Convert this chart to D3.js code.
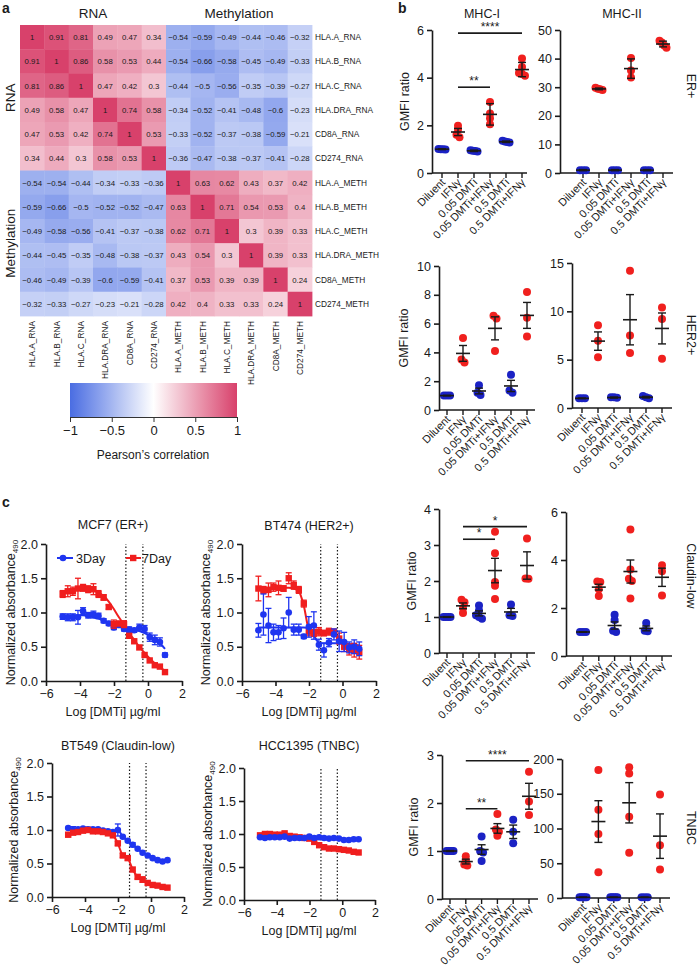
<!DOCTYPE html>
<html><head><meta charset="utf-8">
<script src="https://cdn.jsdelivr.net/npm/d3@7/dist/d3.min.js"></script>
<style>
body{margin:0;background:#fff;}
svg text{font-family:"Liberation Sans",Arial,Helvetica,sans-serif;fill:#1a1a1a;}
</style></head><body>
<svg id="fig" width="697" height="972" xmlns="http://www.w3.org/2000/svg"></svg>
<script>
// ================= DATA =================
// Panel a – correlation heatmap
const heatLabels = ["HLA.A_RNA","HLA.B_RNA","HLA.C_RNA","HLA.DRA_RNA","CD8A_RNA","CD274_RNA",
                    "HLA.A_METH","HLA.B_METH","HLA.C_METH","HLA.DRA_METH","CD8A_METH","CD274_METH"];
const heatValues = [
  [1,0.91,0.81,0.49,0.47,0.34,-0.54,-0.59,-0.49,-0.44,-0.46,-0.32],
  [0.91,1,0.86,0.58,0.53,0.44,-0.54,-0.66,-0.58,-0.45,-0.49,-0.33],
  [0.81,0.86,1,0.47,0.42,0.3,-0.44,-0.5,-0.56,-0.35,-0.39,-0.27],
  [0.49,0.58,0.47,1,0.74,0.58,-0.34,-0.52,-0.41,-0.48,-0.6,-0.23],
  [0.47,0.53,0.42,0.74,1,0.53,-0.33,-0.52,-0.37,-0.38,-0.59,-0.21],
  [0.34,0.44,0.3,0.58,0.53,1,-0.36,-0.47,-0.38,-0.37,-0.41,-0.28],
  [-0.54,-0.54,-0.44,-0.34,-0.33,-0.36,1,0.63,0.62,0.43,0.37,0.42],
  [-0.59,-0.66,-0.5,-0.52,-0.52,-0.47,0.63,1,0.71,0.54,0.53,0.4],
  [-0.49,-0.58,-0.56,-0.41,-0.37,-0.38,0.62,0.71,1,0.3,0.39,0.33],
  [-0.44,-0.45,-0.35,-0.48,-0.38,-0.37,0.43,0.54,0.3,1,0.39,0.33],
  [-0.46,-0.49,-0.39,-0.6,-0.59,-0.41,0.37,0.53,0.39,0.39,1,0.24],
  [-0.32,-0.33,-0.27,-0.23,-0.21,-0.28,0.42,0.4,0.33,0.33,0.24,1]
];
const colorbarTicks = [-1,-0.5,0,0.5,1];

// Panel b – GMFI ratios
const gmfiGroups = ["Diluent","IFN\u03b3","0.05 DMTi","0.05 DMTi+IFN\u03b3","0.5 DMTi","0.5 DMTi+IFN\u03b3"];
const erMhc1Points = [[0.99,1.0,1.0,1.01],[1.98,1.82,1.6,1.5],[0.9,0.92,0.95,0.93],[2.98,2.5,2.3,2.05],[1.28,1.32,1.35,1.3],[4.8,4.45,4.2,4.08,4.15]];
const erMhc1Mean = [1.0,1.72,0.93,2.46,1.31,4.34];
const erMhc1Err = [0.02,0.15,0.03,0.45,0.03,0.3];
const erMhc2Points = [[1,1,1],[29.0,29.5,29.8,29.3],[1,1,1],[40.2,35.8,33.4],[1,1,1],[46.2,45.6,44.6,43.8]];
const erMhc2Mean = [1,29.4,1,36.5,1,45.1];
const erMhc2Err = [0.2,0.3,0.2,3.4,0.2,1.0];
const her2Mhc1Points = [[1,1,1],[5.0,3.5,3.3],[1.72,1.2,1.05],[6.55,6.35,4.1],[2.45,1.35,1.2],[8.2,6.4,5.1]];
const her2Mhc1Mean = [1,3.93,1.32,5.67,1.67,6.57];
const her2Mhc1Err = [0.02,0.55,0.2,0.8,0.39,0.9];
const her2Mhc2Points = [[1,1,1],[8.55,6.95,5.25],[1.1,1.1,1.05],[14.2,7.5,5.7],[1.25,1.0,1.1],[10.4,9.2,5.1]];
const her2Mhc2Mean = [1,6.92,1.08,9.13,1.12,8.23];
const her2Mhc2Err = [0.03,0.95,0.05,2.6,0.08,1.6];
const clMhc1Points = [[1,1,1,1],[1.48,1.41,1.25,1.11],[1.32,1.18,1.05,0.95,1.0],[3.37,2.77,1.97,1.87,1.5],[1.35,1.05,1.03],[3.18,2.07,2.06]];
const clMhc1Mean = [1,1.31,1.1,2.29,1.14,2.43];
const clMhc1Err = [0.01,0.08,0.07,0.34,0.1,0.38];
const clMhc2Points = [[1,1,1],[3.1,3.08,2.78,2.5],[1.72,1.5,1.05,1.0],[5.27,3.6,3.22,3.12,2.4],[1.37,1.05,1.03],[3.78,3.53,2.52]];
const clMhc2Mean = [1,2.87,1.27,3.52,1.15,3.28];
const clMhc2Err = [0.01,0.12,0.15,0.48,0.1,0.38];
const tnMhc1Points = [[1,1,1,1,1],[0.89,0.8,0.72,0.7],[1.3,1.0,0.97,0.79],[1.77,1.45,1.4,1.32],[1.65,1.4,1.16],[2.65,2.03,1.75]];
const tnMhc1Mean = [1,0.78,1.03,1.47,1.4,2.14];
const tnMhc1Err = [0.01,0.05,0.1,0.1,0.14,0.27];
const tnMhc2Points = [[1,1,1,1,1],[184,127,92,37],[1,1,1,1,1],[188,179,117,65],[1,1,1],[149,76,41]];
const tnMhc2Mean = [1,110,1,137,1,89];
const tnMhc2Err = [0.2,30,0.2,29,0.2,32];
const erMhc1Sig = [{from:1,to:5,y:5.87,label:"****"},{from:1,to:3,y:3.6,label:"**"}];
const clMhc1Sig = [{from:1,to:3,y:3.16,label:"*"},{from:1,to:5,y:3.51,label:"*"}];
const tnMhc1Sig = [{from:1,to:5,y:2.88,label:"****"},{from:1,to:3,y:1.88,label:"**"}];

// Panel c – dose response
const doseLogX = [-5.02,-4.72,-4.42,-4.12,-3.82,-3.52,-3.21,-2.91,-2.61,-2.31,-2.01,-1.71,-1.41,-1.11,-0.81,-0.51,-0.20,0.10,0.40,0.70,1.00];
const dmtiDoses = [0.05, 0.5];
const mcf7Day3 = [0.94,0.93,0.93,0.93,1.02,0.96,0.97,0.95,0.88,0.84,0.78,0.82,0.76,0.75,0.74,0.78,0.76,0.64,0.60,0.57,0.38];
const mcf7Day3Err = [0.04,0.05,0.05,0.1,0.05,0.04,0.05,0.04,0.03,0.03,0.03,0.04,0.03,0.04,0.03,0.05,0.05,0.06,0.07,0.06,0.03];
const mcf7Day3Fit = [0.95,0.95,0.96,0.96,0.96,0.95,0.93,0.91,0.88,0.85,0.82,0.80,0.78,0.77,0.75,0.73,0.70,0.66,0.61,0.55,0.47];
const mcf7Day7 = [1.27,1.31,1.31,1.35,1.36,1.34,1.34,1.27,1.22,1.08,0.83,0.84,0.83,0.66,0.58,0.49,0.38,0.30,0.23,0.21,0.13];
const mcf7Day7Err = [0.05,0.08,0.06,0.15,0.05,0.05,0.08,0.05,0.04,0.03,0.06,0.03,0.05,0.03,0.02,0.02,0.02,0.02,0.02,0.02,0.02];
const mcf7Day7Fit = [1.30,1.32,1.34,1.35,1.35,1.34,1.32,1.29,1.24,1.16,1.05,0.93,0.82,0.70,0.60,0.50,0.41,0.33,0.26,0.20,0.15];
const bt474Day3 = [0.74,0.97,0.81,0.71,0.71,0.77,1.00,0.75,0.75,0.65,0.79,0.81,0.53,0.45,0.56,0.68,0.58,0.57,0.49,0.50,0.47];
const bt474Day3Err = [0.1,0.3,0.25,0.12,0.1,0.15,0.22,0.08,0.08,0.03,0.15,0.2,0.08,0.1,0.06,0.08,0.15,0.14,0.08,0.1,0.1];
const bt474Day3Fit = [0.78,0.78,0.78,0.78,0.78,0.78,0.78,0.78,0.78,0.78,0.77,0.66,0.56,0.55,0.55,0.55,0.55,0.55,0.54,0.53,0.52];
const bt474Day7 = [1.35,1.33,1.33,1.37,1.36,1.35,1.50,1.40,1.33,1.13,0.72,0.70,0.72,0.70,0.72,0.71,0.62,0.50,0.46,0.45,0.42];
const bt474Day7Err = [0.18,0.05,0.1,0.06,0.1,0.04,0.08,0.06,0.05,0.05,0.06,0.05,0.06,0.04,0.05,0.05,0.08,0.07,0.08,0.1,0.1];
const bt474Day7Fit = [1.36,1.36,1.36,1.36,1.36,1.36,1.36,1.35,1.31,1.10,0.76,0.71,0.71,0.71,0.71,0.70,0.62,0.52,0.48,0.47,0.47];
const bt549Day3 = [1.03,1.00,1.01,1.02,1.01,1.01,1.01,0.99,0.98,0.97,1.00,0.90,0.84,0.78,0.72,0.66,0.62,0.58,0.55,0.53,0.55];
const bt549Day3Err = [0.02,0.05,0.02,0.02,0.03,0.02,0.02,0.02,0.02,0.02,0.09,0.02,0.02,0.03,0.02,0.02,0.02,0.02,0.02,0.02,0.02];
const bt549Day7 = [0.93,0.96,0.97,0.99,1.00,0.98,0.98,0.97,0.95,0.92,0.80,0.62,0.58,0.41,0.30,0.26,0.21,0.18,0.17,0.15,0.14];
const bt549Day7Err = [0.03,0.02,0.02,0.02,0.03,0.02,0.02,0.02,0.02,0.02,0.03,0.03,0.03,0.02,0.03,0.04,0.02,0.02,0.02,0.02,0.02];
const hccDay3 = [0.95,0.94,0.95,0.95,0.95,0.96,0.93,0.94,0.94,0.94,0.96,0.94,0.95,0.94,0.93,0.94,0.93,0.91,0.91,0.92,0.92];
const hccDay3Err = [0.02,0.02,0.02,0.02,0.02,0.02,0.02,0.02,0.02,0.02,0.02,0.02,0.02,0.02,0.02,0.02,0.02,0.02,0.02,0.02,0.02];
const hccDay7 = [0.98,1.00,1.00,0.99,0.99,1.01,0.97,0.96,0.95,0.94,0.93,0.88,0.83,0.80,0.78,0.78,0.77,0.76,0.75,0.73,0.72];
const hccDay7Err = [0.02,0.02,0.02,0.02,0.02,0.02,0.02,0.02,0.02,0.02,0.02,0.02,0.02,0.02,0.02,0.02,0.02,0.02,0.02,0.02,0.02];

// ================= DRAWING =================
const svg = d3.select("#fig");
const INK = "#1a1a1a";
const fmtNum = v => (v < 0 ? "\u2212" : "") + String(Math.abs(v));

function panelLetter(t, x, y){
  svg.append("text").attr("x",x).attr("y",y).attr("font-size",14).attr("font-weight","bold").text(t);
}

// ---------- Panel a ----------
(function(){
  const g = svg.append("g");
  const hx = d3.scaleBand().domain(heatLabels).range([20,312]);
  const hy = d3.scaleBand().domain(heatLabels).range([25,316]);
  const heatColor = d3.scaleLinear().domain([-1,0,1]).range(["#4a6de2","#ffffff","#d8416b"]);
  heatValues.forEach((row,i)=>row.forEach((v,j)=>{
    g.append("rect").attr("x",hx(heatLabels[j])).attr("y",hy(heatLabels[i]))
      .attr("width",hx.bandwidth()+0.4).attr("height",hy.bandwidth()+0.4).attr("fill",heatColor(v));
  }));
  heatValues.forEach((row,i)=>row.forEach((v,j)=>{
    g.append("text").attr("x",hx(heatLabels[j])+hx.bandwidth()/2).attr("y",hy(heatLabels[i])+hy.bandwidth()/2+3)
      .attr("text-anchor","middle").attr("font-size",7.8).text(fmtNum(v));
  }));
  heatLabels.forEach(l=>{
    g.append("text").attr("x",315).attr("y",hy(l)+hy.bandwidth()/2+3).attr("font-size",8.3).text(l);
    g.append("text").attr("transform",`translate(${hx(l)+hx.bandwidth()/2+3},321) rotate(-90)`)
      .attr("text-anchor","end").attr("font-size",8.3).text(l);
  });
  const rnaMid = (hx(heatLabels[0]) + hx(heatLabels[5]) + hx.bandwidth())/2;
  const methMid = (hx(heatLabels[6]) + hx(heatLabels[11]) + hx.bandwidth())/2;
  g.append("text").attr("x",rnaMid).attr("y",18).attr("text-anchor","middle").attr("font-size",13.5).text("RNA");
  g.append("text").attr("x",methMid).attr("y",18).attr("text-anchor","middle").attr("font-size",13.5).text("Methylation");
  const rnaMidY = (hy(heatLabels[0]) + hy(heatLabels[5]) + hy.bandwidth())/2;
  const methMidY = (hy(heatLabels[6]) + hy(heatLabels[11]) + hy.bandwidth())/2;
  g.append("text").attr("transform",`translate(15,${rnaMidY}) rotate(-90)`).attr("text-anchor","middle").attr("font-size",13.5).text("RNA");
  g.append("text").attr("transform",`translate(15,${methMidY}) rotate(-90)`).attr("text-anchor","middle").attr("font-size",13.5).text("Methylation");

  // colour bar
  const defs = svg.append("defs");
  const lg = defs.append("linearGradient").attr("id","cbar").attr("x1","0%").attr("x2","100%");
  d3.range(0,1.0001,0.1).forEach(t=>{
    lg.append("stop").attr("offset",(t*100)+"%").attr("stop-color",heatColor(-1+2*t));
  });
  const cx = d3.scaleLinear().domain([-1,1]).range([70,237]);
  g.append("rect").attr("x",70).attr("y",383).attr("width",167).attr("height",34).attr("fill","url(#cbar)");
  const ax = g.append("g").attr("transform","translate(0,417)")
    .call(d3.axisBottom(cx).tickValues(colorbarTicks).tickSize(5).tickSizeOuter(0).tickPadding(4).tickFormat(fmtNum));
  ax.selectAll("path,line").attr("stroke","#333").attr("stroke-width",1);
  ax.selectAll("text").attr("font-size",13);
  g.append("text").attr("x",153).attr("y",459).attr("text-anchor","middle").attr("font-size",12).text("Pearson\u2019s correlation");
})();
panelLetter("a",2,13);

// ---------- Panel b ----------
const bBlue = "#1b22c4", bRed = "#f0201e";
function gmfiPlot(c){
  const g = svg.append("g");
  const y = d3.scaleLinear().domain([0,c.max]).range([c.y0,c.yTop]);
  const x = d3.scalePoint().domain(gmfiGroups).range([c.cx0,c.cx1]);
  const ya = g.append("g").attr("transform",`translate(${c.ax},0)`)
    .call(d3.axisLeft(y).tickValues(c.ticks).tickFormat(d3.format("~g")).tickSize(5).tickSizeOuter(0).tickPadding(3));
  ya.selectAll("path,line").attr("stroke",INK).attr("stroke-width",1.6);
  ya.selectAll("text").attr("font-size",12.5);
  g.append("line").attr("x1",c.ax).attr("x2",c.xEnd).attr("y1",c.y0).attr("y2",c.y0).attr("stroke",INK).attr("stroke-width",1.6);
  gmfiGroups.forEach(gr=>{
    g.append("line").attr("x1",x(gr)).attr("x2",x(gr)).attr("y1",c.y0).attr("y2",c.y0+5).attr("stroke",INK).attr("stroke-width",1.4);
    g.append("text").attr("transform",`translate(${x(gr)+4},${c.y0+10}) rotate(-45)`)
      .attr("text-anchor","end").attr("font-size",11).text(gr);
  });
  // points
  c.points.forEach((vals,gi)=>{
    const col = gi % 2 === 0 ? bBlue : bRed;
    const py = vals.map(v=>y(v));
    const order = d3.range(vals.length).sort((a,b)=>py[a]-py[b]);
    const offs = new Array(vals.length).fill(0);
    let cluster = [order[0]];
    const flush = ()=>{
      const m = cluster.length;
      if (m>1){ const spread = Math.min((m-1)*3,7); cluster.forEach((k,j)=>offs[k] = j*spread/(m-1)-spread/2); }
    };
    for (let k=1;k<order.length;k++){
      if (py[order[k]] - py[cluster[cluster.length-1]] < 3.5) cluster.push(order[k]);
      else { flush(); cluster=[order[k]]; }
    }
    flush();
    vals.forEach((v,k)=>{
      g.append("circle").attr("cx",x(gmfiGroups[gi])+offs[k]).attr("cy",py[k]).attr("r",4).attr("fill",col);
    });
  });
  // mean & error bars
  c.mean.forEach((m,gi)=>{
    const xx = x(gmfiGroups[gi]);
    const e = c.err[gi];
    g.append("line").attr("x1",xx-7).attr("x2",xx+7).attr("y1",y(m)).attr("y2",y(m)).attr("stroke",INK).attr("stroke-width",1.6);
    g.append("line").attr("x1",xx).attr("x2",xx).attr("y1",y(m-e)).attr("y2",y(m+e)).attr("stroke",INK).attr("stroke-width",1.4);
    [m-e,m+e].forEach(v=>g.append("line").attr("x1",xx-4).attr("x2",xx+4).attr("y1",y(v)).attr("y2",y(v)).attr("stroke",INK).attr("stroke-width",1.4));
  });
  (c.sig||[]).forEach(s=>{
    const x1 = x(gmfiGroups[s.from]), x2 = x(gmfiGroups[s.to]);
    g.append("line").attr("x1",x1).attr("x2",x2).attr("y1",y(s.y)).attr("y2",y(s.y)).attr("stroke",INK).attr("stroke-width",1.6);
    g.append("text").attr("x",(x1+x2)/2).attr("y",y(s.y)-2).attr("text-anchor","middle").attr("font-size",12).text(s.label);
  });
  if (c.ylab){
    g.append("text").attr("transform",`translate(${c.ylab},${(c.y0+c.yTop)/2}) rotate(-90)`)
      .attr("text-anchor","middle").attr("font-size",12.5).text("GMFI ratio");
  }
}
function rowLabel(t, yc){
  svg.append("text").attr("transform",`translate(687,${yc}) rotate(90)`).attr("text-anchor","middle").attr("font-size",12.5).text(t);
}
panelLetter("b",398,13);
svg.append("text").attr("x",482).attr("y",18).attr("text-anchor","middle").attr("font-size",12.5).text("MHC-I");
svg.append("text").attr("x",622).attr("y",18).attr("text-anchor","middle").attr("font-size",12.5).text("MHC-II");

gmfiPlot({ax:432,cx0:442,cx1:522,xEnd:527,y0:173,yTop:30,max:6,ticks:[0,2,4,6],points:erMhc1Points,mean:erMhc1Mean,err:erMhc1Err,sig:erMhc1Sig,ylab:409});
gmfiPlot({ax:560,cx0:583,cx1:663,xEnd:673,y0:173,yTop:30,max:50,ticks:[0,10,20,30,40,50],points:erMhc2Points,mean:erMhc2Mean,err:erMhc2Err});
rowLabel("ER+",86);
gmfiPlot({ax:439,cx0:447,cx1:527,xEnd:535,y0:410,yTop:266,max:10,ticks:[0,2,4,6,8,10],points:her2Mhc1Points,mean:her2Mhc1Mean,err:her2Mhc1Err,ylab:408});
gmfiPlot({ax:572,cx0:582,cx1:662,xEnd:672,y0:408,yTop:263,max:15,ticks:[0,5,10,15],points:her2Mhc2Points,mean:her2Mhc2Mean,err:her2Mhc2Err});
rowLabel("HER2+",335);
gmfiPlot({ax:439,cx0:447,cx1:527,xEnd:535,y0:653,yTop:509,max:4,ticks:[0,1,2,3,4],points:clMhc1Points,mean:clMhc1Mean,err:clMhc1Err,sig:clMhc1Sig,ylab:416});
gmfiPlot({ax:566,cx0:583,cx1:662,xEnd:672,y0:656,yTop:512,max:6,ticks:[0,2,4,6],points:clMhc2Points,mean:clMhc2Mean,err:clMhc2Err});
rowLabel("Claudin-low",576);
gmfiPlot({ax:442,cx0:450,cx1:529,xEnd:538,y0:899,yTop:755,max:3,ticks:[0,1,2,3],points:tnMhc1Points,mean:tnMhc1Mean,err:tnMhc1Err,sig:tnMhc1Sig,ylab:418});
gmfiPlot({ax:562,cx0:583,cx1:660,xEnd:670,y0:898,yTop:759,max:200,ticks:[0,50,100,150,200],points:tnMhc2Points,mean:tnMhc2Mean,err:tnMhc2Err});
rowLabel("TNBC",828);

// ---------- Panel c ----------
const cBlue = "#1f35f0", cRed = "#f01e1e";
function dosePlot(c){
  const g = svg.append("g");
  const x = d3.scaleLinear().domain([-6,2]).range([c.x0,c.x1]);
  const y = d3.scaleLinear().domain([0,2]).range([c.y0,c.yTop]);
  const ya = g.append("g").attr("transform",`translate(${c.x0},0)`)
    .call(d3.axisLeft(y).tickValues([0,0.5,1,1.5,2]).tickFormat(d3.format(".1f")).tickSize(5).tickSizeOuter(0).tickPadding(3));
  const xa = g.append("g").attr("transform",`translate(0,${c.y0})`)
    .call(d3.axisBottom(x).tickValues([-6,-4,-2,0,2]).tickFormat(d3.format("d")).tickSize(5).tickSizeOuter(0).tickPadding(3));
  [ya,xa].forEach(a=>{a.selectAll("path,line").attr("stroke",INK).attr("stroke-width",1.6); a.selectAll("text").attr("font-size",12.5);});
  dmtiDoses.forEach(d=>{
    const xx = x(Math.log10(d));
    g.append("line").attr("x1",xx).attr("x2",xx).attr("y1",c.y0).attr("y2",c.yTop).attr("stroke",INK).attr("stroke-width",1.2).attr("stroke-dasharray","1.5,2");
  });
  const line = d3.line().x((d,i)=>x(doseLogX[i])).y(d=>y(d)).curve(d3.curveMonotoneX);
  c.series.forEach(s=>{
    g.append("path").attr("d",line(s.fit||s.y)).attr("fill","none").attr("stroke",s.color).attr("stroke-width",2);
  });
  c.series.forEach(s=>{
    s.y.forEach((v,i)=>{
      const xx = x(doseLogX[i]), e = s.err[i];
      if (e > 0.025){
        g.append("line").attr("x1",xx).attr("x2",xx).attr("y1",y(v-e)).attr("y2",y(v+e)).attr("stroke",s.color).attr("stroke-width",1.3);
        [v-e,v+e].forEach(w=>g.append("line").attr("x1",xx-3).attr("x2",xx+3).attr("y1",y(w)).attr("y2",y(w)).attr("stroke",s.color).attr("stroke-width",1.3));
      }
      if (s.shape==="circle") g.append("circle").attr("cx",xx).attr("cy",y(v)).attr("r",3.3).attr("fill",s.color);
      else g.append("rect").attr("x",xx-3.2).attr("y",y(v)-3.2).attr("width",6.4).attr("height",6.4).attr("fill",s.color);
    });
  });
  const mid = c.labX;
  g.append("text").attr("x",mid).attr("y",c.titleY).attr("text-anchor","middle").attr("font-size",12.5).text(c.title);
  g.append("text").attr("x",mid).attr("y",c.y0+35).attr("text-anchor","middle").attr("font-size",12.5).text("Log [DMTi] \u00b5g/ml");
  const yl = g.append("text").attr("transform",`translate(${c.ylabX},${(c.y0+c.yTop)/2}) rotate(-90)`).attr("text-anchor","middle").attr("font-size",12.5);
  yl.append("tspan").text("Normalized absorbance");
  yl.append("tspan").attr("font-size",8).attr("dy",3).text("490");
  if (c.legend){
    const ly = c.yTop + 14;
    g.append("line").attr("x1",57).attr("x2",73).attr("y1",ly).attr("y2",ly).attr("stroke",cBlue).attr("stroke-width",2);
    g.append("circle").attr("cx",63).attr("cy",ly).attr("r",3.3).attr("fill",cBlue);
    g.append("text").attr("x",76).attr("y",ly+4.5).attr("font-size",12.5).text("3Day");
    g.append("line").attr("x1",126).attr("x2",141).attr("y1",ly).attr("y2",ly).attr("stroke",cRed).attr("stroke-width",2);
    g.append("rect").attr("x",130).attr("y",ly-3.2).attr("width",6.4).attr("height",6.4).attr("fill",cRed);
    g.append("text").attr("x",142).attr("y",ly+4.5).attr("font-size",12.5).text("7Day");
  }
}
panelLetter("c",2,507);
dosePlot({x0:46,x1:182,y0:681,yTop:544,title:"MCF7 (ER+)",titleY:529,labX:113,ylabX:15,legend:true,
  series:[{y:mcf7Day3,err:mcf7Day3Err,fit:mcf7Day3Fit,color:cBlue,shape:"circle"},{y:mcf7Day7,err:mcf7Day7Err,fit:mcf7Day7Fit,color:cRed,shape:"square"}]});
dosePlot({x0:242,x1:376,y0:681,yTop:544,title:"BT474 (HER2+)",titleY:530,labX:309,ylabX:210,
  series:[{y:bt474Day7,err:bt474Day7Err,fit:bt474Day7Fit,color:cRed,shape:"square"},{y:bt474Day3,err:bt474Day3Err,fit:bt474Day3Fit,color:cBlue,shape:"circle"}]});
dosePlot({x0:52,x1:184,y0:897,yTop:763,title:"BT549 (Claudin-low)",titleY:750,labX:118,ylabX:18,
  series:[{y:bt549Day3,err:bt549Day3Err,color:cBlue,shape:"circle"},{y:bt549Day7,err:bt549Day7Err,color:cRed,shape:"square"}]});
dosePlot({x0:244,x1:375,y0:900,yTop:768,title:"HCC1395 (TNBC)",titleY:750,labX:309,ylabX:212,
  series:[{y:hccDay7,err:hccDay7Err,color:cRed,shape:"square"},{y:hccDay3,err:hccDay3Err,color:cBlue,shape:"circle"}]});
</script></body></html>
